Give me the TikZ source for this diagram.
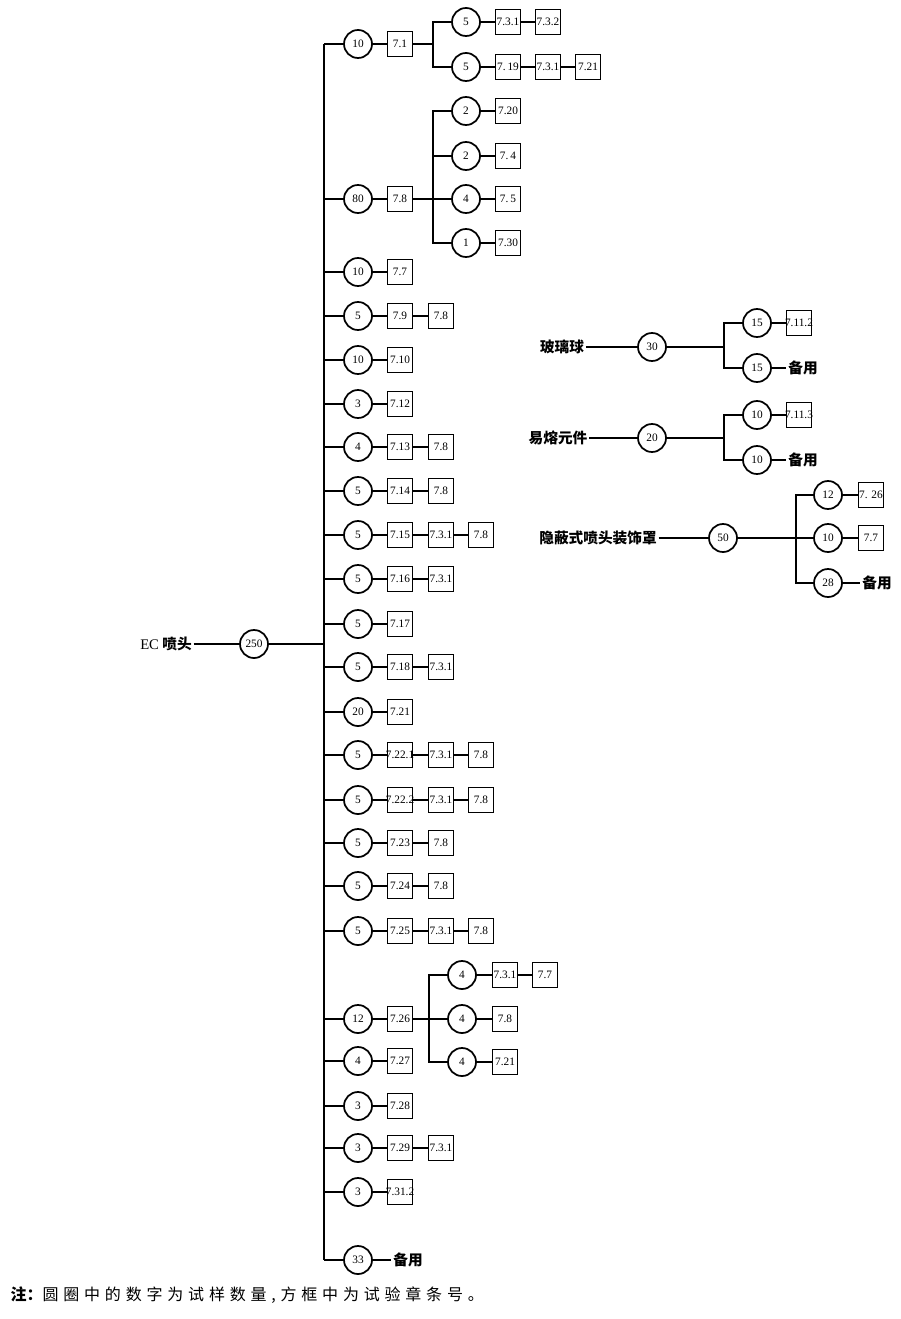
\documentclass[tikz,border=0pt]{standalone}
\usepackage{fontspec}
\setmainfont{Liberation Serif}
\newfontfamily\cjk{Noto Sans CJK SC}
\newfontfamily\cjknote[LetterSpace=30]{Noto Sans CJK SC}
\newcommand{\sn}[1]{\makebox[16pt]{#1}}
\begin{document}
\begin{tikzpicture}[x=0.75pt, y=-0.75pt,
                    line width=0.9pt,
                    ]
    \tikzstyle{num}=[circle,draw,line width=1.3pt,minimum size=21pt,inner sep=0pt,font=\fontsize{8.5}{9}\selectfont]
    \tikzstyle{sec}=[rectangle,draw,line width=1.4pt,minimum size=18.75pt,inner sep=0.5pt,font=\fontsize{8.5}{9}\selectfont]
    \tikzstyle{word}=[inner sep=1pt,font=\cjk\bfseries\fontsize{11}{11}\selectfont]

    \useasboundingbox (0,0) rectangle (900,1319);

    % trunk
    \coordinate (t44) at (324,44);
    \coordinate (t1260) at (324,1260);
    \coordinate (t644) at (324,644);
    \draw (t44) -- (t1260);

    \node[word] (ec) at (166,644) {{\rmfamily\mdseries EC} 喷头};
    \node[num] (n250) at (254,644) {250};
    \draw (ec) -- (n250) -- (t644);

    % rows with one section
    \foreach \y/\n/\a in {272/10/7.7, 360/10/7.10, 404/3/7.12, 624/5/7.17, 712/20/7.21,
                          1061/4/7.27, 1106/3/7.28, 1192/3/7.31.2}{
        \coordinate (t\y) at (324,\y);
        \node[num] (c\y) at (358,\y) {\n};
        \node[sec] (a\y) at (400,\y) {\sn{\a}};
        \draw (t\y) -- (c\y) -- (a\y);
    }
    % rows with two sections
    \foreach \y/\n/\a/\b in {316/5/7.9/7.8, 447/4/7.13/7.8, 491/5/7.14/7.8, 579/5/7.16/7.3.1,
                             667/5/7.18/7.3.1, 843/5/7.23/7.8, 886/5/7.24/7.8, 1148/3/7.29/7.3.1}{
        \coordinate (t\y) at (324,\y);
        \node[num] (c\y) at (358,\y) {\n};
        \node[sec] (a\y) at (400,\y) {\sn{\a}};
        \node[sec] (b\y) at (441,\y) {\sn{\b}};
        \draw (t\y) -- (c\y) -- (a\y) -- (b\y);
    }
    % rows with three sections
    \foreach \y/\n/\a/\b/\d in {535/5/7.15/7.3.1/7.8, 755/5/7.22.1/7.3.1/7.8,
                                800/5/7.22.2/7.3.1/7.8, 931/5/7.25/7.3.1/7.8}{
        \coordinate (t\y) at (324,\y);
        \node[num] (c\y) at (358,\y) {\n};
        \node[sec] (a\y) at (400,\y) {\sn{\a}};
        \node[sec] (b\y) at (441,\y) {\sn{\b}};
        \node[sec] (d\y) at (481,\y) {\sn{\d}};
        \draw (t\y) -- (c\y) -- (a\y) -- (b\y) -- (d\y);
    }

    % 10 -> 7.1
    \node[num] (c44) at (358,44) {10};
    \node[sec] (a44) at (400,44) {\sn{7.1}};
    \coordinate (j44) at (433,44);
    \node[num] (u1) at (466,22) {5};
    \node[sec] (u1a) at (508,22) {\sn{7.3.1}};
    \node[sec] (u1b) at (548,22) {\sn{7.3.2}};
    \node[num] (u2) at (466,67) {5};
    \node[sec] (u2a) at (508,67) {\sn{7.\,19}};
    \node[sec] (u2b) at (548,67) {\sn{7.3.1}};
    \node[sec] (u2c) at (588,67) {\sn{7.21}};
    \draw (t44) -- (c44) -- (a44) -- (j44);
    \draw (j44) |- (u1);
    \draw (j44) |- (u2);
    \draw (u1) -- (u1a) -- (u1b);
    \draw (u2) -- (u2a) -- (u2b) -- (u2c);

    % 80 -> 7.8
    \coordinate (t199) at (324,199);
    \node[num] (c199) at (358,199) {80};
    \node[sec] (a199) at (400,199) {\sn{7.8}};
    \coordinate (j199) at (433,199);
    \draw (t199) -- (c199) -- (a199) -- (j199);
    \foreach \y/\n/\a [count=\i] in {111/2/7.20, 156/2/7.\,4, 199/4/7.\,5, 243/1/7.30}{
        \node[num] (v\i) at (466,\y) {\n};
        \node[sec] (v\i a) at (508,\y) {\sn{\a}};
        \draw (j199) |- (v\i);
        \draw (v\i) -- (v\i a);
    }

    % 12 -> 7.26
    \coordinate (t1019) at (324,1019);
    \node[num] (c1019) at (358,1019) {12};
    \node[sec] (a1019) at (400,1019) {\sn{7.26}};
    \coordinate (j1019) at (429,1019);
    \draw (t1019) -- (c1019) -- (a1019) -- (j1019);
    \node[num] (w1) at (462,975) {4};
    \node[sec] (w1a) at (505,975) {\sn{7.3.1}};
    \node[sec] (w1b) at (545,975) {\sn{7.7}};
    \node[num] (w2) at (462,1019) {4};
    \node[sec] (w2a) at (505,1019) {\sn{7.8}};
    \node[num] (w3) at (462,1062) {4};
    \node[sec] (w3a) at (505,1062) {\sn{7.21}};
    \draw (j1019) |- (w1);
    \draw (j1019) |- (w3);
    \draw (j1019) -- (w2);
    \draw (w1) -- (w1a) -- (w1b);
    \draw (w2) -- (w2a);
    \draw (w3) -- (w3a);

    % spare
    \node[num] (c1260) at (358,1260) {33};
    \node[word] (spare) at (408,1260) {备用};
    \draw (t1260) -- (c1260) -- (spare);

    % glass bulb
    \node[word] (glass) at (562,347) {玻璃球};
    \node[num] (g30) at (652,347) {30};
    \coordinate (gj) at (724,347);
    \node[num] (g1) at (757,323) {15};
    \node[sec] (g1a) at (799,323) {\sn{7.11.2}};
    \node[num] (g2) at (757,368) {15};
    \node[word] (g2a) at (803,368) {备用};
    \draw (glass) -- (g30) -- (gj);
    \draw (gj) |- (g1);
    \draw (gj) |- (g2);
    \draw (g1) -- (g1a);
    \draw (g2) -- (g2a);

    % fusible element
    \node[word] (fuse) at (558,438) {易熔元件};
    \node[num] (f20) at (652,438) {20};
    \coordinate (fj) at (724,438);
    \node[num] (f1) at (757,415) {10};
    \node[sec] (f1a) at (799,415) {\sn{7.11.3}};
    \node[num] (f2) at (757,460) {10};
    \node[word] (f2a) at (803,460) {备用};
    \draw (fuse) -- (f20) -- (fj);
    \draw (fj) |- (f1);
    \draw (fj) |- (f2);
    \draw (f1) -- (f1a);
    \draw (f2) -- (f2a);

    % concealed cover plate
    \node[word] (cover) at (598,538) {隐蔽式喷头装饰罩};
    \node[num] (k50) at (723,538) {50};
    \coordinate (kj) at (796,538);
    \node[num] (k1) at (828,495) {12};
    \node[sec] (k1a) at (871,495) {\sn{7. 26}};
    \node[num] (k2) at (828,538) {10};
    \node[sec] (k2a) at (871,538) {\sn{7.7}};
    \node[num] (k3) at (828,583) {28};
    \node[word] (k3a) at (877,583) {备用};
    \draw (cover) -- (k50) -- (kj);
    \draw (kj) |- (k1);
    \draw (kj) |- (k3);
    \draw (kj) -- (k2);
    \draw (k1) -- (k1a);
    \draw (k2) -- (k2a);
    \draw (k3) -- (k3a);

    \node[anchor=west,inner sep=0pt,font=\fontsize{12}{12}\selectfont] (note) at (10,1295)
        {{\cjk\bfseries 注：}{\cjknote 圆圈中的数字为试样数量,方框中为试验章条号。}};
\end{tikzpicture}
\end{document}
